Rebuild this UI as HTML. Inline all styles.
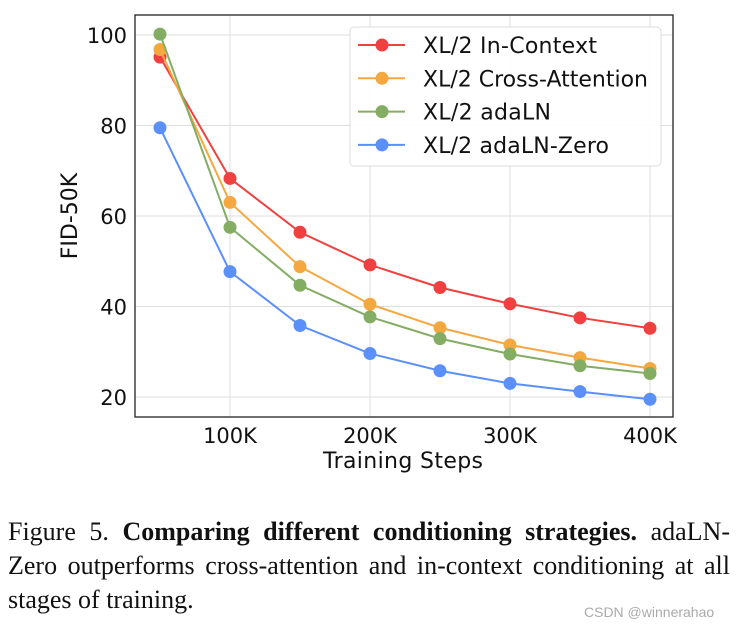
<!DOCTYPE html>
<html><head><meta charset="utf-8"><style>
body{margin:0;background:#fff;width:743px;height:629px;overflow:hidden;position:relative}
svg text{font-family:"DejaVu Sans","Liberation Sans",sans-serif}
.cap{position:absolute;left:8px;width:722px;font:26px/34px "Liberation Serif",serif;color:#111;white-space:nowrap}
.j{text-align:justify;text-align-last:justify}
.wm{position:absolute;left:584px;top:604px;font:14px "Liberation Sans",sans-serif;color:#aaa}
</style></head><body>
<svg id="chart" width="743" height="500" style="position:absolute;left:0;top:0"></svg>
<div>
<div class="cap j" style="top:515px">Figure 5. <b>Comparing different conditioning strategies.</b> adaLN-</div>
<div class="cap j" style="top:549px">Zero outperforms cross-attention and in-context conditioning at all</div>
<div class="cap" style="top:583px">stages of training.</div>
</div>
<div class="wm">CSDN @winnerahao</div>
<script>
const steps=[50,100,150,200,250,300,350,400];
const xTicks=[100,200,300,400];
const xTickLabels=["100K","200K","300K","400K"];
const yTicks=[20,40,60,80,100];
const seriesNames=["XL/2 In-Context","XL/2 Cross-Attention","XL/2 adaLN","XL/2 adaLN-Zero"];
const inContext=[95.1,68.3,56.4,49.2,44.2,40.6,37.5,35.2];
const crossAttn=[96.8,63.0,48.8,40.5,35.3,31.5,28.7,26.3];
const adaLN=[100.2,57.5,44.7,37.7,32.9,29.5,26.9,25.2];
const adaLNZero=[79.5,47.7,35.8,29.6,25.8,23.0,21.2,19.5];
const colors=["#f04040","#f5a840","#84ad64","#5b8ff9"];
const allSeries=[inContext,crossAttn,adaLN,adaLNZero];
const NS="http://www.w3.org/2000/svg";
const svg=document.getElementById('chart');
const L=135,R=673,T=15,B=417;
const x=v=>160+(v-50)*1.4;
const y=v=>397-(v-20)*(362/80);
function mk(tag,attrs,parent){const e=document.createElementNS(NS,tag);for(const k in attrs)e.setAttribute(k,attrs[k]);(parent||svg).appendChild(e);return e;}
xTicks.forEach((t,i)=>{
 const g=mk('line',{x1:x(t),x2:x(t),y1:T,y2:B,stroke:'#ddd','stroke-width':1});
 
 
 const tx=mk('text',{x:x(t),y:443,'text-anchor':'middle','font-size':21,fill:'#111'});tx.textContent=xTickLabels[i];
 
 
});
yTicks.forEach(t=>{
 const g=mk('line',{x1:L,x2:R,y1:y(t),y2:y(t),stroke:'#ddd','stroke-width':1});
 
 
 const tx=mk('text',{x:127,y:y(t)+8,'text-anchor':'end','font-size':21,fill:'#111'});tx.textContent=t;
 
 
});
const frame=mk('rect',{x:L,y:T,width:R-L,height:B-T,fill:'none',stroke:'#222','stroke-width':1.3});


allSeries.forEach((s,si)=>{
 const p=mk('polyline',{points:s.map((v,i)=>x(steps[i])+','+y(v)).join(' '),fill:'none',stroke:colors[si],'stroke-width':2});
 
 
 s.forEach((v,i)=>{
  const c=mk('circle',{cx:x(steps[i]),cy:y(v),r:6.5,fill:colors[si]});
  
  
 });
});
const xt=mk('text',{x:403,y:468,'text-anchor':'middle','font-size':22,fill:'#111',textLength:160});xt.textContent='Training Steps';


const yt=mk('text',{x:0,y:0,'text-anchor':'middle','font-size':22,fill:'#111',transform:'translate(77,216) rotate(-90)'});yt.textContent='FID-50K';


const lg=mk('rect',{x:350,y:27,width:311,height:139,rx:4,fill:'#fff','fill-opacity':0.9,stroke:'#ddd'});


const lgW=[174,225,128,186];
seriesNames.forEach((n,i)=>{
 const yy=45+i*33.3;
 const g=mk('g',{});
 
 
 mk('line',{x1:358,x2:405,y1:yy,y2:yy,stroke:colors[i],'stroke-width':2},g);
 mk('circle',{cx:382,cy:yy,r:6.5,fill:colors[i]},g);
 const t=mk('text',{x:423,y:yy+8,'font-size':22,fill:'#111',textLength:lgW[i]},g);t.textContent=n;
});
</script>
</body></html>
